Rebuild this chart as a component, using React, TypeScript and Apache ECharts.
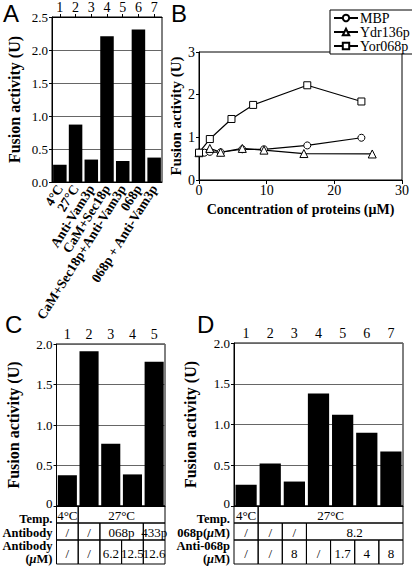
import React, { useEffect, useRef } from "react";
import * as echarts from "echarts";

// ---------- Data ----------
const aCategories = ["4°C", "27°C", "Anti-Vam3p", "CaM+Sec18p", "CaM+Sec18p+Anti-Vam3p", "068p", "068p + Anti-Vam3p"];
const aLanes = ["1", "2", "3", "4", "5", "6", "7"];
const aValues = [0.26, 0.87, 0.34, 2.21, 0.32, 2.31, 0.37];

const bMbpX = [0, 0.8, 1.6, 3.2, 6.4, 9.6, 16, 24];
const bMbpY = [0.64, 0.64, 0.66, 0.65, 0.72, 0.72, 0.81, 0.99];
const bYdrX = [0, 1.6, 3.2, 6.4, 9.6, 15.5, 25.6];
const bYdrY = [0.64, 0.74, 0.65, 0.74, 0.7, 0.62, 0.61];
const bYorX = [0, 1.6, 4.8, 8, 16, 24];
const bYorY = [0.64, 0.96, 1.43, 1.76, 2.22, 1.84];
const bSeriesNames = ["MBP", "Ydr136p", "Yor068p"];

const cLanes = ["1", "2", "3", "4", "5"];
const cValues = [0.38, 1.91, 0.77, 0.39, 1.78];
const cTemp: [string, number][] = [["4°C", 1], ["27°C", 4]];
const cAntibody: [string, number][] = [["/", 1], ["/", 1], ["068p", 2], ["433p", 1]];
const cAntibodyConc: [string, number][] = [["/", 1], ["/", 1], ["6.2", 1], ["12.5", 1], ["12.6", 1]];

const dLanes = ["1", "2", "3", "4", "5", "6", "7"];
const dValues = [0.26, 0.52, 0.3, 1.38, 1.12, 0.9, 0.67];
const dTemp: [string, number][] = [["4°C", 1], ["27°C", 6]];
const d068p: [string, number][] = [["/", 1], ["/", 1], ["/", 1], ["8.2", 4]];
const dAnti: [string, number][] = [["/", 1], ["/", 1], ["8", 1], ["/", 1], ["1.7", 1], ["4", 1], ["8", 1]];

// ---------- Layout ----------
const SERIF = "Liberation Serif";
const SANS = "Liberation Sans";
const gA = { left: 52, top: 16, width: 110, height: 166 };
const gB = { left: 199, top: 52, width: 204, height: 128 };
const gC = { left: 56.5, top: 344, width: 108.5, height: 162 };
const gD = { left: 234, top: 343, width: 169, height: 163 };
const rowY = [506, 523, 540, 564];

const yTitle = "Fusion activity (U)";

function headerText(x: number, y: number, parts: string) {
  return {
    type: "text",
    x,
    y,
    style: {
      text: parts,
      align: "right",
      verticalAlign: "middle",
      fontFamily: SERIF,
      fontWeight: "bold",
      fontSize: 12.5,
      fill: "#000",
      rich: {
        b: { fontFamily: SERIF, fontWeight: "bold", fontSize: 12.5, fill: "#000" },
        i: { fontFamily: SERIF, fontWeight: "bold", fontStyle: "italic", fontSize: 12.5, fill: "#000" },
      },
    },
  };
}

function buildTable(g: any, n: number, rows: [string, number][][], headers: string[][]) {
  const cw = g.width / n;
  const els: any[] = [];
  rows.forEach((row, ri) => {
    const y0 = rowY[ri];
    const y1 = rowY[ri + 1];
    let col = 0;
    row.forEach(([t, span]) => {
      els.push({
        type: "rect",
        shape: { x: g.left + col * cw, y: y0, width: span * cw, height: y1 - y0 },
        style: { fill: "none", stroke: "#000", lineWidth: 1 },
      });
      els.push({
        type: "text",
        x: g.left + (col + span / 2) * cw,
        y: (y0 + y1) / 2 + 1,
        style: { text: t, align: "center", verticalAlign: "middle", fontFamily: SERIF, fontSize: 13, fill: "#000" },
      });
      col += span;
    });
    const h = headers[ri];
    if (h.length === 1) {
      els.push(headerText(g.left - 4, ri === 0 ? y0 + 12.5 : (y0 + y1) / 2 + 1, h[0]));
    } else {
      els.push(headerText(g.left - 4, y0 + 5.5, h[0]));
      els.push(headerText(g.left - 4, y0 + 18.5, h[1]));
    }
  });
  return els;
}

const cHeaders = [["{b|Temp.}"], ["{b|Antibody}"], ["{b|Antibody}", "{b|(}{i|μ}{b|M)}"]];
const dHeaders = [["{b|Temp.}"], ["{b|068p(}{i|μ}{b|M)}"], ["{b|Anti-068p}", "{b|(}{i|μ}{b|M)}"]];

const labelStyle = { fontFamily: SERIF, fontSize: 13, color: "#000" };
const blackLine = { lineStyle: { color: "#000", width: 1 } };

function valueY(gridIndex: number, max: number, interval: number, fmt: (v: number) => string, nameGap: number, split: boolean, nameSize: number) {
  return {
    gridIndex,
    type: "value",
    min: 0,
    max,
    interval,
    axisLine: { show: true, ...blackLine },
    axisTick: { show: true, length: 3, ...blackLine },
    axisLabel: {
      ...labelStyle,
      margin: 4,
      formatter: fmt,
      rich: { z: { fontFamily: SERIF, fontSize: 13, color: "#000", padding: [0, 0, 6, 0] } },
    },
    splitLine: { show: split, lineStyle: { color: "#666", width: 1 } },
    name: yTitle,
    nameLocation: "middle",
    nameRotate: 90,
    nameGap,
    nameTextStyle: { fontFamily: SERIF, fontWeight: "bold", fontSize: nameSize, color: "#000" },
  };
}

function laneAxis(gridIndex: number, data: string[]) {
  return {
    gridIndex,
    type: "category",
    data,
    position: "top",
    axisLine: { show: true, ...blackLine },
    axisTick: { show: true, alignWithLabel: true, length: 3, ...blackLine },
    axisLabel: { fontFamily: SERIF, fontSize: 14, color: "#000", margin: 3, interval: 0 },
  };
}

function mkLine(name: string, xs: number[], ys: number[], symbol: string) {
  return {
    name,
    type: "line",
    xAxisIndex: 2,
    yAxisIndex: 1,
    data: xs.map((x, i) => [x, ys[i]]),
    symbol,
    symbolSize: symbol === "triangle" ? 8 : 7,
    showSymbol: true,
    itemStyle: { color: "#fff", borderColor: "#000", borderWidth: 1 },
    lineStyle: { color: "#000", width: 1.2 },
    z: symbol === "rect" ? 3 : 2,
  };
}

export default function App() {
  const ref = useRef<HTMLDivElement>(null);
  useEffect(() => {
    if (!ref.current) return;
    const chart = echarts.init(ref.current, undefined, { renderer: "svg" });
    const fmt1 = (v: number) => v.toFixed(1);
    const fmt0 = (v: number) => (v === 0 ? "{z|0}" : v.toFixed(1));
    const option: any = {
      animation: false,
      backgroundColor: "#fff",
      textStyle: { fontFamily: SERIF, color: "#000" },
      grid: [gA, gB, gC, gD].map((g) => ({ ...g, show: true, borderColor: "#000", borderWidth: 1, backgroundColor: "transparent" })),
      legend: {
        data: bSeriesNames,
        orient: "vertical",
        left: 330,
        top: 10,
        itemWidth: 24,
        itemHeight: 8,
        itemGap: 0,
        padding: [1, 3, 1, 3],
        borderColor: "#000",
        borderWidth: 1,
        backgroundColor: "#fff",
        textStyle: { fontFamily: SERIF, fontSize: 14, lineHeight: 12.5, color: "#000", padding: [0, 0, 0, -3] },
      },
      xAxis: [
        {
          gridIndex: 0,
          type: "category",
          data: aCategories,
          position: "bottom",
          axisLine: { show: true, ...blackLine },
          axisTick: { show: false },
          axisLabel: { fontFamily: SERIF, fontWeight: "bold", fontSize: 13.5, color: "#000", rotate: 58, interval: 0, margin: 4 },
        },
        laneAxis(0, aLanes),
        {
          gridIndex: 1,
          type: "value",
          min: 0,
          max: 30,
          interval: 10,
          axisLine: { show: true, ...blackLine },
          axisTick: { show: true, length: 4, ...blackLine },
          axisLabel: { ...labelStyle, fontSize: 14, margin: 3 },
          splitLine: { show: false },
          name: "Concentration of proteins (μM)",
          nameLocation: "middle",
          nameGap: 22,
          nameTextStyle: { fontFamily: SERIF, fontWeight: "bold", fontSize: 14, color: "#000" },
        },
        laneAxis(2, cLanes),
        laneAxis(3, dLanes),
      ],
      yAxis: [
        valueY(0, 2.5, 0.5, fmt1, 30, true, 16),
        { ...valueY(1, 3, 1, (v: number) => String(v), 16, false, 15), axisLabel: { ...labelStyle, fontSize: 14, margin: 4 } },
        valueY(2, 2, 0.5, fmt0, 35, true, 16),
        valueY(3, 2, 0.5, fmt0, 36, true, 16),
      ],
      series: [
        { type: "bar", xAxisIndex: 0, yAxisIndex: 0, data: aValues, itemStyle: { color: "#000" }, barCategoryGap: "14%" },
        mkLine(bSeriesNames[0], bMbpX, bMbpY, "circle"),
        mkLine(bSeriesNames[1], bYdrX, bYdrY, "triangle"),
        mkLine(bSeriesNames[2], bYorX, bYorY, "rect"),
        { type: "bar", xAxisIndex: 3, yAxisIndex: 2, data: cValues, itemStyle: { color: "#000" }, barCategoryGap: "12%" },
        { type: "bar", xAxisIndex: 4, yAxisIndex: 3, data: dValues, itemStyle: { color: "#000" }, barCategoryGap: "12%" },
      ],
      graphic: [
        { type: "text", x: 3, y: 1, style: { text: "A", fontFamily: SANS, fontSize: 24, fill: "#000" } },
        { type: "text", x: 171, y: 1, style: { text: "B", fontFamily: SANS, fontSize: 24, fill: "#000" } },
        { type: "text", x: 5, y: 312, style: { text: "C", fontFamily: SANS, fontSize: 24, fill: "#000" } },
        { type: "text", x: 197, y: 312, style: { text: "D", fontFamily: SANS, fontSize: 24, fill: "#000" } },
        ...buildTable(gC, cLanes.length, [cTemp, cAntibody, cAntibodyConc], cHeaders),
        ...buildTable(gD, dLanes.length, [dTemp, d068p, dAnti], dHeaders),
      ],
    };
    chart.setOption(option);
    return () => chart.dispose();
  }, []);
  return <div ref={ref} style={{ position: "absolute", left: 0, top: 0, width: 412, height: 569, background: "#fff" }} />;
}
